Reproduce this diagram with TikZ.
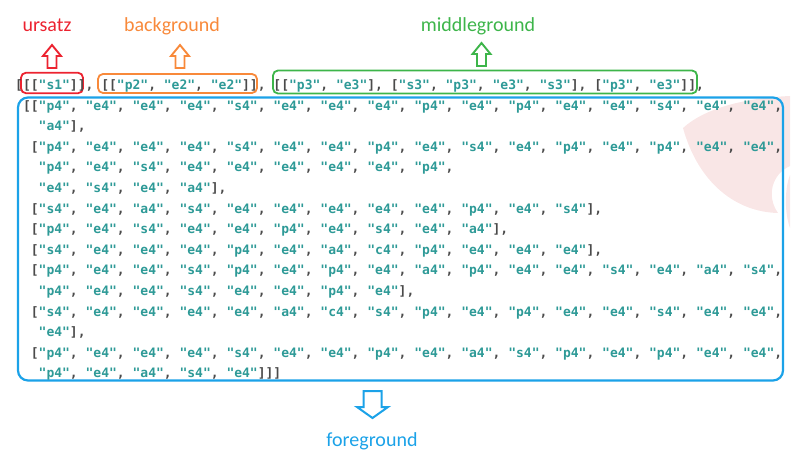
\documentclass[tikz,border=0pt]{standalone}
\usepackage{fontspec}
\setmainfont{Carlito}
\setmonofont{DejaVu Sans Mono}
\definecolor{ured}{HTML}{EC2330}
\definecolor{uorange}{HTML}{F8893A}
\definecolor{ugreen}{HTML}{3DB54A}
\definecolor{ublue}{HTML}{1BA2E8}
\definecolor{strcol}{HTML}{2E9A97}
\definecolor{brk}{HTML}{4A4A4A}
\definecolor{wmpink}{HTML}{F9E6E6}
\newcommand\mycodefont{\ttfamily\bfseries\fontsize{13}{15}\selectfont}
\newcommand\q[1]{\textcolor{strcol}{"#1"}}
\def\cw{7.826}
\def\lh{20.6}
\begin{document}
\begin{tikzpicture}[x=1pt,y=-1pt,
  codeline/.style={anchor=base west, inner sep=0pt, font=\mycodefont, text=brk},
  lab/.style={anchor=base, inner sep=0pt, font=\fontsize{20}{24}\selectfont},
  hlbox/.style={draw, line width=1.8pt, rounded corners=5pt, inner sep=0pt},
  uparr/.pic={\draw[line width=1.9pt, line join=miter, miter limit=10]
      (0,0) -- (9,11) -- (4.5,11) -- (4.5,23) -- (-4.5,23) -- (-4.5,11) -- (-9,11) -- cycle;},
  downarr/.pic={\draw[line width=2pt, line join=miter, miter limit=10]
      (0,0) -- (15.5,-11) -- (9,-11) -- (9,-27) -- (-9,-27) -- (-9,-11) -- (-15.5,-11) -- cycle;}
]
\useasboundingbox (0,0) rectangle (810,470);
% faint watermark
\fill[wmpink] (683,128) .. controls (705,108) and (745,98) .. (790,96) -- (790,166)
  .. controls (772,174) and (766,196) .. (778,213) .. controls (735,212) and (698,182) .. cycle;
\fill[wmpink] (790,175) .. controls (784,190) and (785,215) .. (790,228) -- cycle;

% boxes
\node[hlbox, draw=ublue, line width=2.2pt, rounded corners=10pt, minimum width=765pt, minimum height=283pt] (fbox) at (400.5,239) {};
\node[hlbox, draw=ured, minimum width=62pt, minimum height=20.5pt] (ubox) at (52,83) {};
\node[hlbox, draw=uorange, minimum width=159pt, minimum height=19pt] (obox) at (177.5,83.5) {};
\node[hlbox, draw=ugreen, minimum width=424pt, minimum height=23pt] (gbox) at (485,82) {};

% code lines
\node[codeline] (l0) at (15,89.5) {[[[\q{s1}]], [[\q{p2}, \q{e2}, \q{e2}]], [[\q{p3}, \q{e3}], [\q{s3}, \q{p3}, \q{e3}, \q{s3}], [\q{p3}, \q{e3}]],};
\node[codeline] (l1) at ({15+1*\cw},{89.5+1*\lh}) {[[\q{p4}, \q{e4}, \q{e4}, \q{e4}, \q{s4}, \q{e4}, \q{e4}, \q{e4}, \q{p4}, \q{e4}, \q{p4}, \q{e4}, \q{e4}, \q{s4}, \q{e4}, \q{e4},};
\node[codeline] (l2) at ({15+3*\cw},{89.5+2*\lh}) {\q{a4}],};
\node[codeline] (l3) at ({15+2*\cw},{89.5+3*\lh}) {[\q{p4}, \q{e4}, \q{e4}, \q{e4}, \q{s4}, \q{e4}, \q{e4}, \q{p4}, \q{e4}, \q{s4}, \q{e4}, \q{p4}, \q{e4}, \q{p4}, \q{e4}, \q{e4},};
\node[codeline] (l4) at ({15+3*\cw},{89.5+4*\lh}) {\q{p4}, \q{e4}, \q{s4}, \q{e4}, \q{e4}, \q{e4}, \q{e4}, \q{e4}, \q{p4},};
\node[codeline] (l5) at ({15+3*\cw},{89.5+5*\lh}) {\q{e4}, \q{s4}, \q{e4}, \q{a4}],};
\node[codeline] (l6) at ({15+2*\cw},{89.5+6*\lh}) {[\q{s4}, \q{e4}, \q{a4}, \q{s4}, \q{e4}, \q{e4}, \q{e4}, \q{e4}, \q{e4}, \q{p4}, \q{e4}, \q{s4}],};
\node[codeline] (l7) at ({15+2*\cw},{89.5+7*\lh}) {[\q{p4}, \q{e4}, \q{s4}, \q{e4}, \q{e4}, \q{p4}, \q{e4}, \q{s4}, \q{e4}, \q{a4}],};
\node[codeline] (l8) at ({15+2*\cw},{89.5+8*\lh}) {[\q{s4}, \q{e4}, \q{e4}, \q{e4}, \q{p4}, \q{e4}, \q{a4}, \q{c4}, \q{p4}, \q{e4}, \q{e4}, \q{e4}],};
\node[codeline] (l9) at ({15+2*\cw},{89.5+9*\lh}) {[\q{p4}, \q{e4}, \q{e4}, \q{s4}, \q{p4}, \q{e4}, \q{p4}, \q{e4}, \q{a4}, \q{p4}, \q{e4}, \q{e4}, \q{s4}, \q{e4}, \q{a4}, \q{s4},};
\node[codeline] (l10) at ({15+3*\cw},{89.5+10*\lh}) {\q{p4}, \q{e4}, \q{e4}, \q{s4}, \q{e4}, \q{e4}, \q{p4}, \q{e4}],};
\node[codeline] (l11) at ({15+2*\cw},{89.5+11*\lh}) {[\q{s4}, \q{e4}, \q{e4}, \q{e4}, \q{e4}, \q{a4}, \q{c4}, \q{s4}, \q{p4}, \q{e4}, \q{p4}, \q{e4}, \q{e4}, \q{s4}, \q{e4}, \q{e4},};
\node[codeline] (l12) at ({15+3*\cw},{89.5+12*\lh}) {\q{e4}],};
\node[codeline] (l13) at ({15+2*\cw},{89.5+13*\lh}) {[\q{p4}, \q{e4}, \q{e4}, \q{e4}, \q{s4}, \q{e4}, \q{e4}, \q{p4}, \q{e4}, \q{a4}, \q{s4}, \q{p4}, \q{e4}, \q{p4}, \q{e4}, \q{e4},};
\node[codeline] (l14) at ({15+3*\cw},{89.5+14*\lh}) {\q{p4}, \q{e4}, \q{a4}, \q{s4}, \q{e4}]]]};

% labels
\node[lab, text=ured] (ulab) at (47,31.5) {ursatz};
\node[lab, text=uorange] (olab) at (172,31.5) {background};
\node[lab, text=ugreen] (glab) at (478,31.5) {middleground};
\node[lab, text=ublue] (flab) at (372,446) {foreground};

% hollow block arrows
\pic[draw=ured] at (52,45) {uparr};
\pic[draw=uorange] at (180,45) {uparr};
\pic[draw=ugreen] at (481.5,43) {uparr};
\pic[draw=ublue] at (372.5,418) {downarr};
\end{tikzpicture}
\end{document}
